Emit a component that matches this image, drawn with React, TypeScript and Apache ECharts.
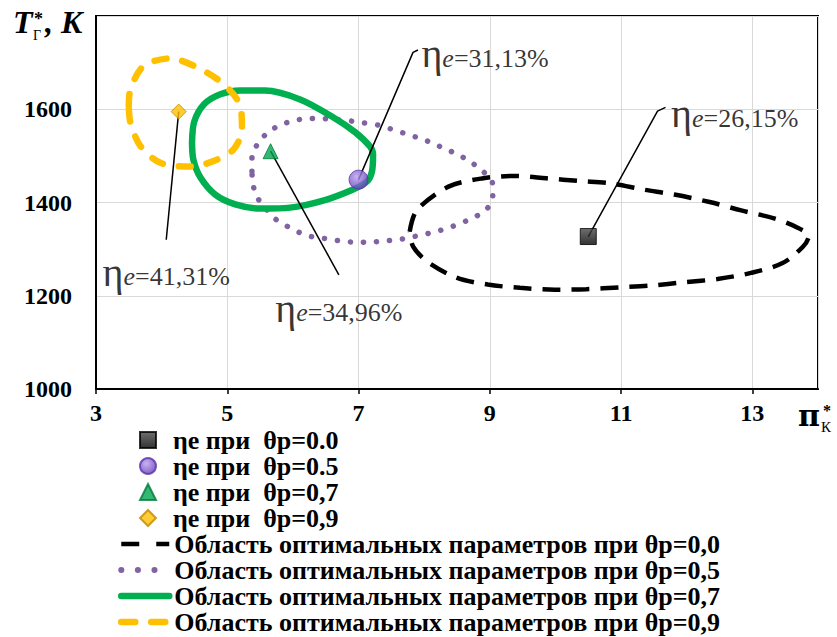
import React, { useEffect, useRef } from "react";
import * as echarts from "echarts";

// ---------- data ----------
const xMin = 3, xMax = 14, xStep = 2;
const yMin = 1000, yMax = 1800, yStep = 200;

const markerNames = ["ηе при  θр=0.0", "ηе при  θр=0.5", "ηе при  θр=0,7", "ηе при  θр=0,9"];
const markerPoints: [number, number][] = [
  [10.5, 1327],
  [7.0, 1449],
  [5.66, 1510],
  [4.26, 1595],
];

const areaNames = [
  "Область оптимальных параметров при θр=0,0",
  "Область оптимальных параметров при θр=0,5",
  "Область оптимальных параметров при θр=0,7",
  "Область оптимальных параметров при θр=0,9",
];

const area00: [number, number][] = [
  [7.78, 1338], [7.885, 1383], [8.37, 1434], [8.9, 1452], [9.38, 1457], [9.86, 1452],
  [10.37, 1446], [10.85, 1441], [11.33, 1428], [11.81, 1417], [12.35, 1401], [12.83, 1383],
  [13.33, 1366], [13.66, 1348], [13.86, 1328], [13.77, 1305], [13.46, 1270], [12.98, 1249],
  [12.47, 1236], [11.97, 1229], [11.46, 1222], [10.98, 1218], [10.47, 1214], [9.99, 1213],
  [9.46, 1217], [8.97, 1224], [8.49, 1239], [8.04, 1274], [7.83, 1306], [7.78, 1338],
];

const area05: [number, number][] = [
  [5.376, 1467], [5.376, 1500], [5.471, 1527], [5.624, 1551], [5.806, 1566], [6.004, 1575],
  [6.232, 1580], [6.445, 1580], [6.673, 1578], [6.871, 1575], [7.068, 1571], [7.297, 1566],
  [7.51, 1557], [7.707, 1548], [7.905, 1539], [8.118, 1528], [8.316, 1515], [8.513, 1503],
  [8.696, 1488], [8.878, 1469], [9.03, 1446], [9.05, 1424], [9.0, 1394], [8.833, 1374],
  [8.65, 1361], [8.437, 1349], [8.24, 1340], [8.042, 1333], [7.814, 1326], [7.601, 1320],
  [7.403, 1318], [7.175, 1315], [6.947, 1315], [6.749, 1317], [6.521, 1322], [6.308, 1326],
  [6.11, 1335], [5.913, 1349], [5.73, 1365], [5.578, 1389], [5.456, 1411], [5.391, 1439],
  [5.376, 1467],
];

const area07: [number, number][] = [
  [4.463, 1529], [4.498, 1574], [4.65, 1611], [4.894, 1632], [5.194, 1640], [5.574, 1640],
  [6.11, 1621], [6.612, 1583], [6.947, 1551], [7.175, 1520], [7.221, 1503], [7.205, 1467],
  [7.129, 1445], [6.916, 1428], [6.46, 1404], [5.958, 1389], [5.502, 1387], [5.122, 1396],
  [4.817, 1417], [4.589, 1454], [4.483, 1492], [4.463, 1529],
];

const area09: [number, number][] = [
  [3.499, 1607], [3.525, 1643], [3.727, 1693], [4.133, 1709], [4.539, 1690], [4.944, 1654],
  [5.198, 1607], [5.224, 1557], [5.096, 1514], [4.792, 1489], [4.437, 1477], [3.981, 1485],
  [3.677, 1521], [3.525, 1571], [3.499, 1607],
];

// leader lines: from marker to label anchor
const leaderLines: [number, number][][] = [
  [[7.0, 1449], [7.83, 1722], [7.905, 1727]],
  [[10.5, 1327], [11.555, 1596], [11.677, 1604]],
  [[5.66, 1510], [6.70, 1245]],
  [[4.26, 1595], [4.07, 1320]],
];
const etaValues = ["=31,13%", "=26,15%", "=34,96%", "=41,31%"];

// ---------- styles ----------
const SERIF = "'Liberation Serif', 'Times New Roman', serif";

export default function App() {
  const ref = useRef<HTMLDivElement>(null);

  useEffect(() => {
    if (!ref.current) return;
    const chart = echarts.init(ref.current, undefined, { renderer: "svg" });

    const markerStyles = [
      {
        symbol: "rect",
        symbolSize: 16,
        itemStyle: {
          color: new echarts.graphic.LinearGradient(0, 0, 0, 1, [
            { offset: 0, color: "#4a4a4a" },
            { offset: 1, color: "#000000" },
          ]),
          borderColor: "#000",
          borderWidth: 1,
        },
      },
      {
        symbol: "circle",
        symbolSize: 19,
        itemStyle: {
          color: new echarts.graphic.RadialGradient(0.4, 0.35, 0.7, [
            { offset: 0, color: "#b8a0ee" },
            { offset: 1, color: "#6036b8" },
          ]),
          borderColor: "#5a35a8",
          borderWidth: 1,
        },
      },
      {
        symbol: "triangle",
        symbolSize: 15,
        itemStyle: { color: "#00a650", borderColor: "#007a3a", borderWidth: 1 },
      },
      {
        symbol: "diamond",
        symbolSize: 15,
        itemStyle: { color: "#ffc000", borderColor: "#c08a00", borderWidth: 1 },
      },
    ];

    const areaStyles: any[] = [
      { color: "#000000", width: 4.5, type: [18, 11], cap: "butt" },
      { color: "#8064a2", width: 5.5, type: [0.1, 13], cap: "round" },
      { color: "#00b050", width: 6.5, type: "solid", cap: "round" },
      { color: "#ffc000", width: 6.5, type: [12, 16], cap: "round" },
    ];
    const legendLineStyles: any[] = [
      { color: "#000000", width: 4.5, type: [18, 17], cap: "butt" },
      { color: "#8064a2", width: 6, type: [0.1, 16.5], cap: "round" },
      { color: "#00b050", width: 6.5, type: "solid", cap: "round" },
      { color: "#ffc000", width: 6.5, type: [14, 16], cap: "round" },
    ];
    const areaData = [area00, area05, area07, area09];

    const areaSeries = areaNames.map((name, i) => ({
      name,
      type: "line",
      data: areaData[i],
      smooth: 0.3,
      symbol: "none",
      silent: true,
      z: 2 + i,
      lineStyle: areaStyles[i],
      itemStyle: { color: areaStyles[i].color },
    }));

    const leaderSeries = leaderLines.map((pts, i) => ({
      name: "leader" + i,
      type: "line",
      symbol: "none",
      silent: true,
      z: 8,
      lineStyle: { color: "#000", width: 1.5 },
      data: pts,
    }));

    const rich = {
      eta: { fontFamily: SERIF, fontSize: 40, color: "#000", padding: [0, 0, 9, 0] },
      e: { fontFamily: SERIF, fontSize: 26, fontStyle: "italic", color: "#000" },
      v: { fontFamily: SERIF, fontSize: 26, color: "#000" },
    };
    const labelPos = ["right", "right", "bottom", "bottom"];
    const labelDist = [3, 5, 13, 12];
    const labelOffset = [[0, 8], [0, 11], [0, 0], [0, 0]];

    const labelSeries = {
      name: "etaLabels",
      type: "scatter",
      silent: true,
      symbol: "circle",
      symbolSize: 1,
      z: 12,
      itemStyle: { color: "rgba(0,0,0,0)" },
      data: leaderLines.map((pts, i) => ({
        value: pts[pts.length - 1],
        label: {
          show: true,
          position: labelPos[i],
          distance: labelDist[i],
          offset: labelOffset[i],
          color: "#000",
          formatter: "{eta|η}{e|e}{v|" + etaValues[i] + "}",
          rich,
        },
      })),
    };

    const markerSeries = markerNames.map((name, i) => ({
      name,
      type: "scatter",
      data: [markerPoints[i]],
      z: 10,
      ...markerStyles[i],
    }));

    const legendText = {
      fontFamily: SERIF,
      fontWeight: "bold",
      fontSize: 26,
      lineHeight: 26,
      color: "#000",
    };

    const option = {
      animation: false,
      backgroundColor: "#fff",
      textStyle: { fontFamily: SERIF },
      grid: {
        left: 96,
        right: 19,
        top: 16,
        bottom: 248,
        show: true,
        borderColor: "#000",
        borderWidth: 2,
        backgroundColor: "transparent",
      },
      xAxis: {
        type: "value",
        min: xMin,
        max: xMax,
        interval: xStep,
        axisLine: { show: true, lineStyle: { color: "#000", width: 2 } },
        axisTick: { show: true, length: 5, lineStyle: { color: "#000", width: 1.5 } },
        splitLine: { show: true, lineStyle: { color: "#d9d9d9", width: 1 } },
        axisLabel: {
          showMaxLabel: false,
          margin: 12,
          color: "#000",
          fontFamily: SERIF,
          fontWeight: "bold",
          fontSize: 24,
          formatter: (v: number) => String(v),
        },
      },
      yAxis: {
        type: "value",
        min: yMin,
        max: yMax,
        interval: yStep,
        axisLine: { show: true, lineStyle: { color: "#000", width: 2 } },
        axisTick: { show: false },
        splitLine: { show: true, lineStyle: { color: "#d9d9d9", width: 1 } },
        axisLabel: {
          showMaxLabel: false,
          margin: 24,
          color: "#000",
          fontFamily: SERIF,
          fontWeight: "bold",
          fontSize: 24,
          formatter: (v: number) => String(v),
        },
      },
      legend: [
        {
          data: markerNames.map((n, i) => ({ name: n, icon: markerStyles[i].symbol })),
          orient: "vertical",
          left: 139,
          top: 427,
          padding: 0,
          itemWidth: 16,
          itemHeight: 16,
          itemGap: 0,
          selectedMode: false,
          textStyle: { ...legendText, padding: [0, 0, 0, 12] },
        },
        {
          data: areaNames.map((n, i) => ({ name: n, lineStyle: legendLineStyles[i], itemStyle: { opacity: 0 } })),
          orient: "vertical",
          left: 118,
          top: 531,
          padding: 0,
          itemWidth: 48,
          itemHeight: 4,
          itemGap: 0,
          itemStyle: { opacity: 0 },
          selectedMode: false,
          textStyle: legendText,
        },
      ],
      graphic: [
        { type: "text", left: 13, top: 6, style: { text: "T", fontFamily: SERIF, fontSize: 32, fontWeight: "bold", fontStyle: "italic", fill: "#000" } },
        { type: "text", left: 34, top: 10, style: { text: "*", fontFamily: SERIF, fontSize: 18, fontWeight: "bold", fill: "#000" } },
        { type: "text", left: 33, top: 28, style: { text: "Г", fontFamily: SERIF, fontSize: 14, fill: "#000" } },
        { type: "text", left: 45, top: 6, style: { text: ", K", fontFamily: SERIF, fontSize: 32, fontWeight: "bold", fontStyle: "italic", fill: "#000" } },
        { type: "text", left: 798, top: 400, style: { text: "π", fontFamily: "'DejaVu Serif', serif", fontSize: 30, fontWeight: "bold", fill: "#000" } },
        { type: "text", left: 823, top: 402, style: { text: "*", fontFamily: SERIF, fontSize: 16, fontWeight: "bold", fill: "#000" } },
        { type: "text", left: 821, top: 419, style: { text: "К", fontFamily: SERIF, fontSize: 15, fill: "#000" } },
      ],
      series: [...areaSeries, ...leaderSeries, labelSeries, ...markerSeries],
    };

    chart.setOption(option as any);
    return () => chart.dispose();
  }, []);

  return (
    <div
      ref={ref}
      style={{ position: "fixed", left: 0, top: 0, width: 837, height: 637, background: "#fff" }}
    />
  );
}
